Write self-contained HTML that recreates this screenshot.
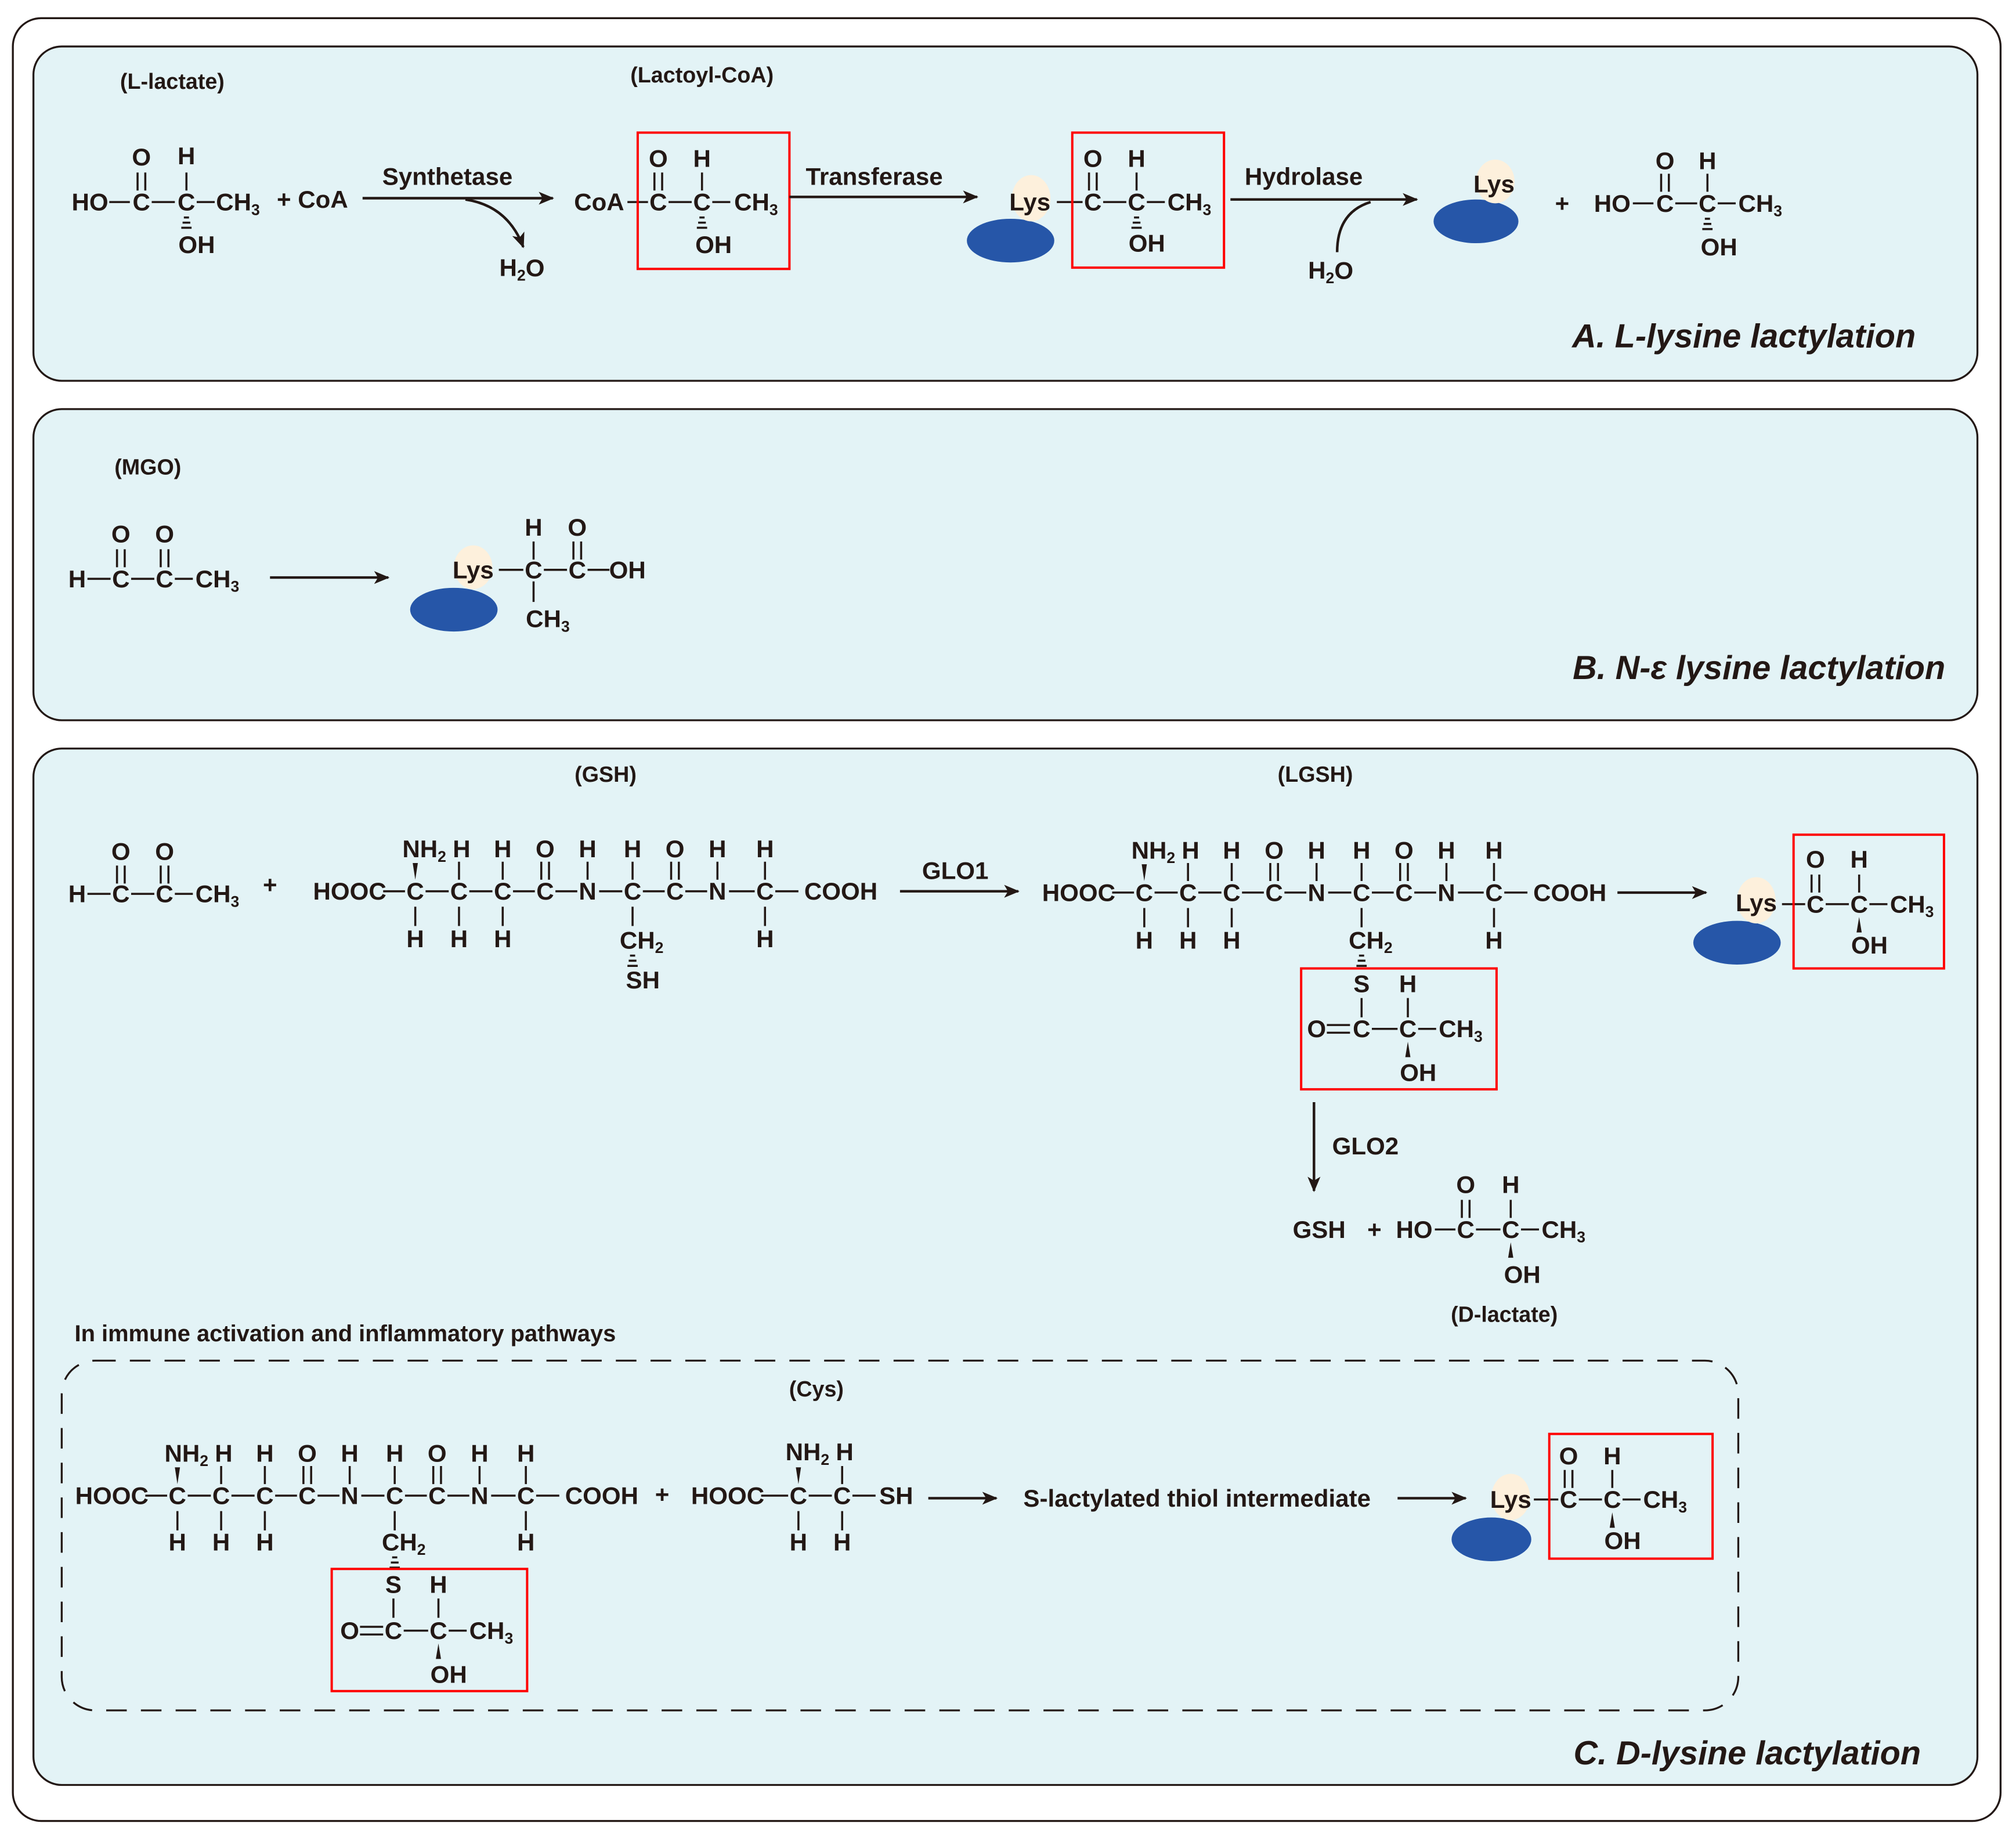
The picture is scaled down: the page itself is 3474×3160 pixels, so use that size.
<!DOCTYPE html>
<html><head><meta charset="utf-8"><style>
html,body{margin:0;padding:0;background:#fff}
svg{display:block}
.t{font-family:"Liberation Sans Narrow","Liberation Sans",sans-serif;font-weight:bold;font-size:19px;fill:#231815;dominant-baseline:central;text-anchor:middle}
.s{font-size:12px}
.l{text-anchor:start}
.ti{font-family:"Liberation Sans Narrow","Liberation Sans",sans-serif;font-weight:bold;font-style:italic;font-size:26px;fill:#231815;text-anchor:end}
.b{stroke:#231815;stroke-width:1.6;fill:none}
.r{stroke:#f00;stroke-width:1.8;fill:none}
.ar{stroke:#231815;stroke-width:2;fill:none}
</style></head><body>
<svg width="3474" height="3160" viewBox="0 0 1568 1426" xmlns="http://www.w3.org/2000/svg">
<defs><marker id="ah" viewBox="0 0 12 10" refX="11" refY="5" markerWidth="12" markerHeight="10" markerUnits="userSpaceOnUse" orient="auto"><path d="M0,0 L12,5 L0,10 L3,5z" fill="#231815"/></marker></defs>
<rect x="10" y="14" width="1546" height="1402" rx="22" fill="#fff" stroke="#231815" stroke-width="1.5"/>
<rect x="26" y="36" width="1512" height="260" rx="22" fill="#e3f3f6" stroke="#231815" stroke-width="1.5"/>
<rect x="26" y="318" width="1512" height="242" rx="22" fill="#e3f3f6" stroke="#231815" stroke-width="1.5"/>
<rect x="26" y="582" width="1512" height="806" rx="22" fill="#e3f3f6" stroke="#231815" stroke-width="1.5"/>
<rect x="48" y="1058" width="1304" height="272" rx="26" fill="none" stroke="#231815" stroke-width="1.5" stroke-dasharray="16,11"/>

<!-- ===== Panel A ===== -->
<text class="t" x="134" y="63" style="font-size:17px">(L-lactate)</text>
<text class="t" x="70" y="157">HO</text><text class="t" x="110" y="157">C</text><text class="t" x="145" y="157">C</text>
<text class="t l" x="168" y="157">CH<tspan class="s" dy="6">3</tspan></text>
<path class="b" d="M85,157h16M118,157h18M153,157h14M107,134v14M113,134v14M145,134v14"/>
<text class="t" x="110" y="122">O</text><text class="t" x="145" y="121">H</text>
<path class="b" d="M143,169h4M142,173h6M141,177h8" stroke-width="1.4"/>
<text class="t" x="153" y="190">OH</text>
<text class="t" x="243" y="155">+ CoA</text>
<text class="t" x="348" y="137">Synthetase</text>
<path class="ar" d="M282,154H430" marker-end="url(#ah)"/>
<path class="ar" d="M362,155 Q395,160 407,192" marker-end="url(#ah)"/>
<text class="t" x="406" y="208">H<tspan class="s" dy="6">2</tspan><tspan dy="-6">O</tspan></text>
<text class="t" x="546" y="58" style="font-size:17px">(Lactoyl-CoA)</text>
<text class="t" x="466" y="157">CoA</text><text class="t" x="512" y="157">C</text><text class="t" x="546" y="157">C</text>
<text class="t l" x="571" y="157">CH<tspan class="s" dy="6">3</tspan></text>
<path class="b" d="M488,157h16M520,157h18M554,157h14M509,134v14M515,134v14M546,134v14"/>
<text class="t" x="512" y="123">O</text><text class="t" x="546" y="123">H</text>
<path class="b" d="M544,169h4M543,173h6M542,177h8" stroke-width="1.4"/>
<text class="t" x="555" y="190">OH</text>
<rect class="r" x="496" y="103" width="118" height="106"/>
<text class="t" x="680" y="137">Transferase</text>
<path class="ar" d="M614,153H760" marker-end="url(#ah)"/>
<ellipse cx="786" cy="187" rx="34" ry="17" fill="#2656a8"/>
<ellipse cx="802" cy="154" rx="15" ry="18" fill="#fdf0dc"/>
<text class="t" x="801" y="157">Lys</text>
<text class="t" x="850" y="157">C</text><text class="t" x="884" y="157">C</text>
<text class="t l" x="908" y="157">CH<tspan class="s" dy="6">3</tspan></text>
<path class="b" d="M822,157h20M858,157h18M892,157h14M847,134v14M853,134v14M884,134v14"/>
<text class="t" x="850" y="123">O</text><text class="t" x="884" y="123">H</text>
<path class="b" d="M882,169h4M881,173h6M880,177h8" stroke-width="1.4"/>
<text class="t" x="892" y="189">OH</text>
<rect class="r" x="834" y="103" width="118" height="105"/>
<text class="t" x="1014" y="137">Hydrolase</text>
<path class="ar" d="M957,155H1102" marker-end="url(#ah)"/>
<path class="ar" d="M1040,196 Q1040,165 1066,157"/>
<text class="t" x="1035" y="210">H<tspan class="s" dy="6">2</tspan><tspan dy="-6">O</tspan></text>
<ellipse cx="1148" cy="172" rx="33" ry="17" fill="#2656a8"/>
<ellipse cx="1163" cy="141" rx="15" ry="17" fill="#fdf0dc"/>
<text class="t" x="1162" y="143">Lys</text>
<text class="t" x="1215" y="158">+</text>
<text class="t" x="1254" y="158">HO</text><text class="t" x="1295" y="158">C</text><text class="t" x="1328" y="158">C</text>
<text class="t l" x="1352" y="158">CH<tspan class="s" dy="6">3</tspan></text>
<path class="b" d="M1270,158h16M1303,158h17M1336,158h14M1292,135v14M1298,135v14M1328,135v14"/>
<text class="t" x="1295" y="125">O</text><text class="t" x="1328" y="125">H</text>
<path class="b" d="M1326,170h4M1325,174h6M1324,178h8" stroke-width="1.4"/>
<text class="t" x="1337" y="192">OH</text>
<text class="ti" x="1490" y="270">A. L-lysine lactylation</text>

<!-- ===== Panel B ===== -->
<text class="t" x="115" y="363" style="font-size:17px">(MGO)</text>
<text class="t" x="60" y="450">H</text><text class="t" x="94" y="450">C</text><text class="t" x="128" y="450">C</text>
<text class="t l" x="152" y="450">CH<tspan class="s" dy="6">3</tspan></text>
<path class="b" d="M68,450h18M102,450h18M136,450h14M91,427v14M97,427v14M125,427v14M131,427v14"/>
<text class="t" x="94" y="415">O</text><text class="t" x="128" y="415">O</text>
<path class="ar" d="M210,449H302" marker-end="url(#ah)"/>
<ellipse cx="353" cy="474" rx="34" ry="17" fill="#2656a8"/>
<ellipse cx="368" cy="441" rx="15" ry="17" fill="#fdf0dc"/>
<text class="t" x="368" y="443">Lys</text>
<text class="t" x="415" y="443">C</text><text class="t" x="449" y="443">C</text><text class="t" x="488" y="443">OH</text>
<path class="b" d="M388,443h19M423,443h18M457,443h17M415,421v14M446,421v14M452,421v14M415,452v16"/>
<text class="t" x="415" y="410">H</text><text class="t" x="449" y="410">O</text>
<text class="t l" x="409" y="481">CH<tspan class="s" dy="6">3</tspan></text>
<text class="ti" x="1513" y="528">B. N-ε lysine lactylation</text>

<!-- ===== Panel C ===== -->
<text class="t" x="471" y="602" style="font-size:17px">(GSH)</text>
<text class="t" x="1023" y="602" style="font-size:17px">(LGSH)</text>
<text class="t" x="60" y="695">H</text><text class="t" x="94" y="695">C</text><text class="t" x="128" y="695">C</text>
<text class="t l" x="152" y="695">CH<tspan class="s" dy="6">3</tspan></text>
<path class="b" d="M68,695h18M102,695h18M136,695h14M91,673v14M97,673v14M125,673v14M131,673v14"/>
<text class="t" x="94" y="662">O</text><text class="t" x="128" y="662">O</text>
<text class="t" x="210" y="688">+</text>

<!-- GSH -->
<g>
<text class="t" x="272" y="693">HOOC</text>
<text class="t" x="323" y="693">C</text><text class="t" x="357" y="693">C</text><text class="t" x="391" y="693">C</text><text class="t" x="424" y="693">C</text><text class="t" x="457" y="693">N</text><text class="t" x="492" y="693">C</text><text class="t" x="525" y="693">C</text><text class="t" x="558" y="693">N</text><text class="t" x="595" y="693">C</text><text class="t" x="654" y="693">COOH</text>
<path class="b" d="M298,693h17M331,693h18M365,693h18M399,693h17M432,693h17M466,693h18M500,693h17M533,693h17M567,693h20M603,693h18M357,670v14M391,670v14M421,670v14M427,670v14M457,670v14M492,670v14M522,670v14M528,670v14M558,670v14M595,670v14M323,705v15M357,705v15M391,705v15M595,705v15M492,705v15"/>
<polygon points="321,671 325,671 323,684" fill="#231815"/>
<text class="t" x="330" y="660">NH<tspan class="s" dy="6">2</tspan></text><text class="t" x="359" y="660">H</text>
<text class="t" x="391" y="660">H</text><text class="t" x="424" y="660">O</text><text class="t" x="457" y="660">H</text><text class="t" x="492" y="660">H</text><text class="t" x="525" y="660">O</text><text class="t" x="558" y="660">H</text><text class="t" x="595" y="660">H</text>
<text class="t" x="323" y="730">H</text><text class="t" x="357" y="730">H</text><text class="t" x="391" y="730">H</text><text class="t" x="595" y="730">H</text>
<text class="t l" x="482" y="731">CH<tspan class="s" dy="6">2</tspan></text>
<path class="b" d="M490,743h4M489,747h6M488,751h8" stroke-width="1.4"/>
<text class="t" x="500" y="762">SH</text>
</g>
<text class="t" x="743" y="677">GLO1</text>
<path class="ar" d="M700,693H792" marker-end="url(#ah)"/>

<!-- LGSH -->
<g transform="translate(567,1)">
<text class="t" x="272" y="693">HOOC</text>
<text class="t" x="323" y="693">C</text><text class="t" x="357" y="693">C</text><text class="t" x="391" y="693">C</text><text class="t" x="424" y="693">C</text><text class="t" x="457" y="693">N</text><text class="t" x="492" y="693">C</text><text class="t" x="525" y="693">C</text><text class="t" x="558" y="693">N</text><text class="t" x="595" y="693">C</text><text class="t" x="654" y="693">COOH</text>
<path class="b" d="M298,693h17M331,693h18M365,693h18M399,693h17M432,693h17M466,693h18M500,693h17M533,693h17M567,693h20M603,693h18M357,670v14M391,670v14M421,670v14M427,670v14M457,670v14M492,670v14M522,670v14M528,670v14M558,670v14M595,670v14M323,705v15M357,705v15M391,705v15M595,705v15M492,705v15"/>
<polygon points="321,671 325,671 323,684" fill="#231815"/>
<text class="t" x="330" y="660">NH<tspan class="s" dy="6">2</tspan></text><text class="t" x="359" y="660">H</text>
<text class="t" x="391" y="660">H</text><text class="t" x="424" y="660">O</text><text class="t" x="457" y="660">H</text><text class="t" x="492" y="660">H</text><text class="t" x="525" y="660">O</text><text class="t" x="558" y="660">H</text><text class="t" x="595" y="660">H</text>
<text class="t" x="323" y="730">H</text><text class="t" x="357" y="730">H</text><text class="t" x="391" y="730">H</text><text class="t" x="595" y="730">H</text>
<text class="t l" x="482" y="730">CH<tspan class="s" dy="6">2</tspan></text>
<path class="b" d="M490,742h4M489,746h6M488,750h8" stroke-width="1.4"/>
</g>
<text class="t" x="1059" y="765">S</text><text class="t" x="1095" y="765">H</text>
<text class="t" x="1024" y="800">O</text><text class="t" x="1059" y="800">C</text><text class="t" x="1095" y="800">C</text>
<text class="t l" x="1119" y="800">CH<tspan class="s" dy="6">3</tspan></text>
<path class="b" d="M1032,797h18M1032,803h18M1067,800h20M1103,800h14M1059,776v15M1095,776v15"/>
<polygon points="1093,822 1097,822 1095,810" fill="#231815"/>
<text class="t" x="1103" y="834">OH</text>
<rect class="r" x="1012" y="753" width="152" height="94"/>
<path class="ar" d="M1258,694H1327" marker-end="url(#ah)"/>
<ellipse cx="1351" cy="733" rx="34" ry="17" fill="#2656a8"/>
<ellipse cx="1366" cy="700" rx="15" ry="18" fill="#fdf0dc"/>
<text class="t" x="1366" y="702">Lys</text>
<text class="t" x="1412" y="703">C</text><text class="t" x="1446" y="703">C</text>
<text class="t l" x="1470" y="703">CH<tspan class="s" dy="6">3</tspan></text>
<path class="b" d="M1386,703h18M1420,703h18M1454,703h14M1409,680v14M1415,680v14M1446,680v14"/>
<polygon points="1444,725 1448,725 1446,713" fill="#231815"/>
<text class="t" x="1412" y="668">O</text><text class="t" x="1446" y="668">H</text>
<text class="t" x="1454" y="735">OH</text>
<rect class="r" x="1395" y="649" width="117" height="104"/>
<path class="ar" d="M1022,857V926" marker-end="url(#ah)"/>
<text class="t" x="1062" y="891">GLO2</text>
<text class="t" x="1026" y="956">GSH</text><text class="t" x="1069" y="956">+</text>
<text class="t" x="1100" y="956">HO</text><text class="t" x="1140" y="956">C</text><text class="t" x="1175" y="956">C</text>
<text class="t l" x="1199" y="956">CH<tspan class="s" dy="6">3</tspan></text>
<path class="b" d="M1116,956h16M1148,956h19M1183,956h14M1137,933v14M1143,933v14M1175,933v14"/>
<polygon points="1173,978 1177,978 1175,966" fill="#231815"/>
<text class="t" x="1140" y="921">O</text><text class="t" x="1175" y="921">H</text>
<text class="t" x="1184" y="991">OH</text>
<text class="t" x="1170" y="1022" style="font-size:17px">(D-lactate)</text>
<text class="t l" x="58" y="1037" style="font-size:18px">In immune activation and inflammatory pathways</text>
<text class="t" x="635" y="1080" style="font-size:17px">(Cys)</text>

<!-- GSH-lactyl in dashed box -->
<g transform="translate(-185,470)">
<text class="t" x="272" y="693">HOOC</text>
<text class="t" x="323" y="693">C</text><text class="t" x="357" y="693">C</text><text class="t" x="391" y="693">C</text><text class="t" x="424" y="693">C</text><text class="t" x="457" y="693">N</text><text class="t" x="492" y="693">C</text><text class="t" x="525" y="693">C</text><text class="t" x="558" y="693">N</text><text class="t" x="594" y="693">C</text><text class="t" x="653" y="693">COOH</text>
<path class="b" d="M298,693h17M331,693h18M365,693h18M399,693h17M432,693h17M466,693h18M500,693h17M533,693h17M567,693h19M602,693h18M357,670v14M391,670v14M421,670v14M427,670v14M457,670v14M492,670v14M522,670v14M528,670v14M558,670v14M594,670v14M323,705v15M357,705v15M391,705v15M594,705v15M492,705v15"/>
<polygon points="321,671 325,671 323,684" fill="#231815"/>
<text class="t" x="330" y="660">NH<tspan class="s" dy="6">2</tspan></text><text class="t" x="359" y="660">H</text>
<text class="t" x="391" y="660">H</text><text class="t" x="424" y="660">O</text><text class="t" x="457" y="660">H</text><text class="t" x="492" y="660">H</text><text class="t" x="525" y="660">O</text><text class="t" x="558" y="660">H</text><text class="t" x="594" y="660">H</text>
<text class="t" x="323" y="729">H</text><text class="t" x="357" y="729">H</text><text class="t" x="391" y="729">H</text><text class="t" x="594" y="729">H</text>
<text class="t l" x="482" y="729">CH<tspan class="s" dy="6">2</tspan></text>
<path class="b" d="M490,741h4M489,745h6M488,749h8" stroke-width="1.4"/>
</g>
<text class="t" x="306" y="1232">S</text><text class="t" x="341" y="1232">H</text>
<text class="t" x="272" y="1268">O</text><text class="t" x="306" y="1268">C</text><text class="t" x="341" y="1268">C</text>
<text class="t l" x="365" y="1268">CH<tspan class="s" dy="6">3</tspan></text>
<path class="b" d="M280,1265h18M280,1271h18M314,1268h19M349,1268h14M306,1243v15M341,1243v15"/>
<polygon points="339,1290 343,1290 341,1278" fill="#231815"/>
<text class="t" x="349" y="1302">OH</text>
<rect class="r" x="258" y="1220" width="152" height="95"/>
<text class="t" x="515" y="1162">+</text>
<text class="t" x="566" y="1163">HOOC</text><text class="t" x="621" y="1163">C</text><text class="t" x="655" y="1163">C</text><text class="t" x="697" y="1163">SH</text>
<path class="b" d="M592,1163h21M629,1163h18M663,1163h18M655,1140v14M621,1175v15M655,1175v15"/>
<polygon points="619,1141 623,1141 621,1154" fill="#231815"/>
<text class="t" x="628" y="1129">NH<tspan class="s" dy="6">2</tspan></text><text class="t" x="657" y="1129">H</text>
<text class="t" x="621" y="1199">H</text><text class="t" x="655" y="1199">H</text>
<path class="ar" d="M722,1165H775" marker-end="url(#ah)"/>
<text class="t" x="931" y="1165">S-lactylated thiol intermediate</text>
<path class="ar" d="M1087,1165H1140" marker-end="url(#ah)"/>
<ellipse cx="1160" cy="1197" rx="31" ry="17" fill="#2656a8"/>
<ellipse cx="1175" cy="1164" rx="15" ry="18" fill="#fdf0dc"/>
<text class="t" x="1175" y="1166">Lys</text>
<text class="t" x="1220" y="1166">C</text><text class="t" x="1254" y="1166">C</text>
<text class="t l" x="1278" y="1166">CH<tspan class="s" dy="6">3</tspan></text>
<path class="b" d="M1193,1166h19M1228,1166h18M1262,1166h14M1217,1143v14M1223,1143v14M1254,1143v14"/>
<polygon points="1252,1188 1256,1188 1254,1176" fill="#231815"/>
<text class="t" x="1220" y="1132">O</text><text class="t" x="1254" y="1132">H</text>
<text class="t" x="1262" y="1198">OH</text>
<rect class="r" x="1205" y="1115" width="127" height="97"/>
<text class="ti" x="1494" y="1372">C. D-lysine lactylation</text>
</svg>
</body></html>
